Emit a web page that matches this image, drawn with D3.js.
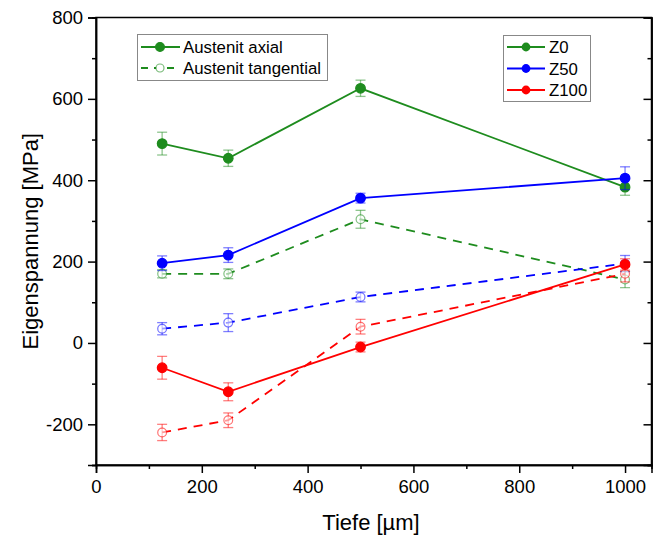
<!DOCTYPE html>
<html>
<head>
<meta charset="utf-8">
<script src="https://cdn.jsdelivr.net/npm/d3@7"></script>
<style>
  body { margin: 0; background: #fff; }
  svg { display: block; font-family: "Liberation Sans", Arial, sans-serif; }
</style>
</head>
<body>
<svg id="chart" width="659" height="537"></svg>
<script>
const depths = [125, 250, 500, 1000];
const seriesNames = ["Z0", "Z50", "Z100"];
const seriesColors = ["#1e8c1e", "#0000ff", "#ff0000"];

const axialZ0   = [490, 454, 626, 383];
const axialZ50  = [196, 216, 356, 405];
const axialZ100 = [-61, -120, -10, 193];
const axialErrZ0   = [28, 20, 20, 20];
const axialErrZ50  = [18, 18, 12, 28];
const axialErrZ100 = [28, 22, 12, 14];

const tangZ0   = [170, 170, 304, 156];
const tangZ50  = [35, 50, 113, 195];
const tangZ100 = [-220, -190, 40, 170];
const tangErrZ0   = [10, 12, 22, 20];
const tangErrZ50  = [15, 22, 12, 20];
const tangErrZ100 = [20, 18, 18, 20];

const xTicks = [0, 200, 400, 600, 800, 1000];
const yTicks = [-200, 0, 200, 400, 600, 800];

const svg = d3.select("#chart");
const L = 96, R = 651.5, T = 17.5, B = 465;
const x = d3.scaleLinear().domain([0, 1050]).range([L, R]);
const y = d3.scaleLinear().domain([-300, 800]).range([B, T]);
const fmt = d => String(d);

// frame
svg.append("rect").attr("x", L).attr("y", T).attr("width", R - L).attr("height", B - T)
  .attr("fill", "none").attr("stroke", "#000").attr("stroke-width", 1.5);

// axes
const xMinor = d3.range(100, 1050, 200);
const yMinor = d3.range(-300, 801, 200);
svg.append("g").attr("transform", `translate(0,${B})`)
  .call(d3.axisBottom(x).tickValues(xTicks).tickSize(8).tickPadding(7).tickFormat(fmt));
svg.append("g").attr("transform", `translate(0,${B})`)
  .call(d3.axisBottom(x).tickValues(xMinor).tickSize(4).tickFormat(""));
svg.append("g").attr("transform", `translate(${L},0)`)
  .call(d3.axisLeft(y).tickValues(yTicks).tickSize(8).tickPadding(5).tickFormat(fmt));
svg.append("g").attr("transform", `translate(${L},0)`)
  .call(d3.axisLeft(y).tickValues(yMinor).tickSize(4).tickFormat(""));
svg.append("g").attr("transform", `translate(${R},0)`)
  .call(d3.axisLeft(y).tickValues(yTicks).tickSize(8).tickFormat(""));
svg.append("g").attr("transform", `translate(${R},0)`)
  .call(d3.axisLeft(y).tickValues(yMinor).tickSize(4).tickFormat(""));
svg.selectAll(".domain").attr("stroke", "#000").attr("stroke-width", 1.5);
svg.selectAll(".tick line").attr("stroke", "#000").attr("stroke-width", 1.5);
svg.selectAll(".tick text").attr("font-size", 18.5).attr("fill", "#000")
  .attr("font-family", "Liberation Sans, Arial, sans-serif");

// titles
svg.append("text").attr("x", 371).attr("y", 530).attr("text-anchor", "middle")
  .attr("font-size", 22).text("Tiefe [µm]");
svg.append("text").attr("transform", `translate(38,${(T + B) / 2}) rotate(-90)`)
  .attr("text-anchor", "middle").attr("font-size", 22).text("Eigenspannung [MPa]");

// data series
const axial = [axialZ0, axialZ50, axialZ100];
const axialErr = [axialErrZ0, axialErrZ50, axialErrZ100];
const tang = [tangZ0, tangZ50, tangZ100];
const tangErr = [tangErrZ0, tangErrZ50, tangErrZ100];

const line = d3.line().x(d => x(d[0])).y(d => y(d[1]));
const plot = svg.append("g");

function drawSeries(vals, errs, color, dashed) {
  const pts = depths.map((d, i) => [d, vals[i], errs[i]]);
  const eb = plot.append("g").attr("stroke", color).attr("stroke-opacity", 0.5).attr("stroke-width", 1.3);
  pts.forEach(p => {
    eb.append("line").attr("x1", x(p[0])).attr("x2", x(p[0])).attr("y1", y(p[1] - p[2])).attr("y2", y(p[1] + p[2]));
    eb.append("line").attr("x1", x(p[0]) - 5).attr("x2", x(p[0]) + 5).attr("y1", y(p[1] - p[2])).attr("y2", y(p[1] - p[2]));
    eb.append("line").attr("x1", x(p[0]) - 5).attr("x2", x(p[0]) + 5).attr("y1", y(p[1] + p[2])).attr("y2", y(p[1] + p[2]));
  });
  plot.append("path").datum(pts).attr("d", line).attr("fill", "none")
    .attr("stroke", color).attr("stroke-width", 1.8)
    .attr("stroke-dasharray", dashed ? "9,7" : null);
  plot.selectAll(null).data(pts).enter().append("circle")
    .attr("cx", d => x(d[0])).attr("cy", d => y(d[1])).attr("r", dashed ? 4.4 : 4.8)
    .attr("fill", dashed ? "#fff" : color)
    .attr("fill-opacity", dashed ? 0.6 : 1)
    .attr("stroke", color).attr("stroke-opacity", dashed ? 0.55 : 1).attr("stroke-width", 1.2);
}
for (let i = 0; i < 3; i++) drawSeries(tang[i], tangErr[i], seriesColors[i], true);
for (let i = 0; i < 3; i++) drawSeries(axial[i], axialErr[i], seriesColors[i], false);

// legend 1
const lg1 = svg.append("g");
lg1.append("rect").attr("x", 137.5).attr("y", 34.5).attr("width", 190).attr("height", 46)
  .attr("fill", "#fff").attr("stroke", "#888").attr("stroke-width", 1);
const leg1 = [["Austenit axial", false], ["Austenit tangential", true]];
leg1.forEach((e, i) => {
  const cy = 47 + i * 21;
  lg1.append("line").attr("x1", 141).attr("x2", 180).attr("y1", cy).attr("y2", cy)
    .attr("stroke", seriesColors[0]).attr("stroke-width", 1.8)
    .attr("stroke-dasharray", e[1] ? "7,6" : null);
  lg1.append("circle").attr("cx", 160).attr("cy", cy).attr("r", e[1] ? 4 : 4.4)
    .attr("fill", e[1] ? "#fff" : seriesColors[0])
    .attr("stroke", seriesColors[0]).attr("stroke-opacity", e[1] ? 0.6 : 1).attr("stroke-width", 1.2);
  lg1.append("text").attr("x", 183).attr("y", cy + 6).attr("font-size", 16.8).text(e[0]);
});

// legend 2
const lg2 = svg.append("g");
lg2.append("rect").attr("x", 503.5).attr("y", 35.5).attr("width", 87).attr("height", 66)
  .attr("fill", "#fff").attr("stroke", "#888").attr("stroke-width", 1);
seriesNames.forEach((n, i) => {
  const cy = 47 + i * 21.5;
  lg2.append("line").attr("x1", 507).attr("x2", 545).attr("y1", cy).attr("y2", cy)
    .attr("stroke", seriesColors[i]).attr("stroke-width", 1.8);
  lg2.append("circle").attr("cx", 526).attr("cy", cy).attr("r", 4.4).attr("fill", seriesColors[i]);
  lg2.append("text").attr("x", 549).attr("y", cy + 6).attr("font-size", 16.8).text(n);
});
</script>
</body>
</html>
